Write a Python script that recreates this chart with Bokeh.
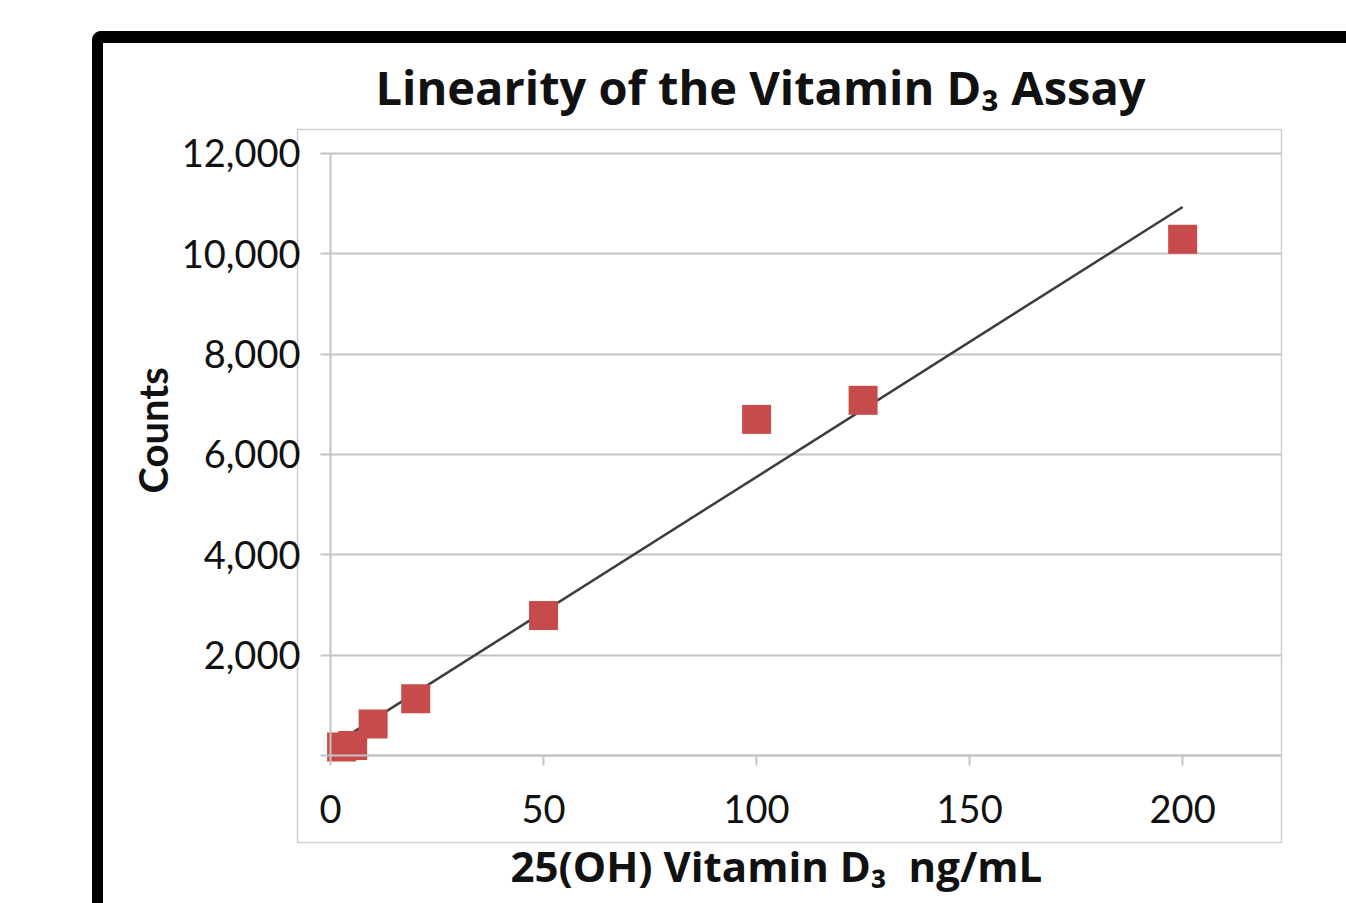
import numpy as np
from bokeh.plotting import figure
from bokeh.models import LinearAxis, Range1d, FixedTicker, Title
from bokeh.embed import file_html
from bokeh.resources import INLINE

# ---- data ----
concentration = [2.6, 5.2, 10, 20, 50, 100, 125, 200]        # ng/mL
counts = [170, 200, 630, 1130, 2790, 6700, 7080, 10290]
x_ticks = [0, 50, 100, 150, 200]
y_ticks = [0, 2000, 4000, 6000, 8000, 10000, 12000]
y_tick_labels = ["", "2,000", "4,000", "6,000", "8,000", "10,000", "12,000"]

title_text = "Linearity of the Vitamin D\u2083 Assay"
x_label = "25(OH) Vitamin D\u2083\u00a0\u00a0ng/mL"
y_label = "Counts"

# linear trend line (least squares fit of the series)
slope, intercept = np.polyfit(concentration, counts, 1)
trend_x = [min(concentration), max(concentration)]
trend_y = [slope * v + intercept for v in trend_x]

W, H = 1346, 903
X0, X1 = -7.75, 223.2
Y0, Y1 = -1734, 12478
GRID = "#c4c4c4"
INK = "#111111"

p = figure(width=W, height=H,
           x_range=Range1d(X0, X1), y_range=Range1d(Y0, Y1),
           output_backend="svg", toolbar_location=None,
           x_axis_location=None, y_axis_location=None,
           min_border_left=297, min_border_right=W - 1281,
           min_border_top=129, min_border_bottom=H - 842)
p.background_fill_color = "white"
p.border_fill_color = None
p.outline_line_color = "#cfcfcf"
p.outline_line_width = 1.5
# thick black frame of the picture (only its top and left sides are in view)
p.styles = {
    "background-color": "white",
    "background-image": ("radial-gradient(circle at 9px 9px, rgba(255,255,255,0) 8.5px, #fff 9.5px), "
                         "linear-gradient(#000,#000), linear-gradient(#000,#000)"),
    "background-size": "9px 9px, 1400px 12px, 11px 1000px",
    "background-position": "92px 31px, 92px 31px, 92px 31px",
    "background-repeat": "no-repeat",
}

# title
p.title.text = title_text
p.title.text_font = "Open Sans"
p.title.text_font_style = "bold"
p.title.text_font_size = "47px"
p.title.text_color = INK
p.title.align = "left"
p.title.offset = 78
p.title.standoff = 21

# grid
p.ygrid.grid_line_color = GRID
p.ygrid.grid_line_width = 2
p.ygrid.bounds = (0, 12000)
p.ygrid.cross_bounds = (0, X1)
p.xgrid.visible = False


def style_ticks(ax):
    ax.axis_line_color = GRID
    ax.axis_line_width = 2
    ax.major_tick_line_color = GRID
    ax.major_tick_line_width = 2
    ax.major_tick_out = 10
    ax.major_tick_in = 0
    ax.minor_tick_out = 0
    ax.minor_tick_in = 0
    ax.major_label_text_font = "Lato"
    ax.major_label_text_font_size = "38px"
    ax.major_label_text_color = INK


# x axis drawn at y = 0 inside the chart area
x_axis = LinearAxis(fixed_location=0, ticker=FixedTicker(ticks=x_ticks), bounds=(0, X1))
style_ticks(x_axis)
x_axis.major_label_standoff = 29
p.add_layout(x_axis, "below")

# y axis line and ticks at x = 0 inside the chart area
y_axis_line = LinearAxis(fixed_location=0, ticker=FixedTicker(ticks=y_ticks), bounds=(0, 12000))
style_ticks(y_axis_line)
y_axis_line.major_label_text_color = None
p.add_layout(y_axis_line, "left")

# y tick labels to the left of the chart area
y_axis = LinearAxis(ticker=FixedTicker(ticks=y_ticks),
                    major_label_overrides={t: s for t, s in zip(y_ticks, y_tick_labels)})
y_axis.axis_line_color = None
y_axis.major_tick_line_color = None
y_axis.minor_tick_line_color = None
y_axis.major_tick_out = 0
y_axis.major_tick_in = 0
y_axis.minor_tick_out = 0
y_axis.minor_tick_in = 0
y_axis.major_label_standoff = -3
y_axis.major_label_text_font = "Lato"
y_axis.major_label_text_font_size = "38px"
y_axis.major_label_text_color = INK
p.add_layout(y_axis, "left")

# axis titles
p.add_layout(Title(text=y_label, align="left", offset=349, standoff=4,
                   text_font="Lato", text_font_style="bold",
                   text_font_size="40px", text_color=INK), "left")
p.add_layout(Title(text=x_label, align="left", offset=213, standoff=-16,
                   text_font="Open Sans", text_font_style="bold",
                   text_font_size="42px", text_color=INK), "below")

# trend line and markers
p.line(trend_x, trend_y, line_color="#3d3d3d", line_width=2.5)
p.scatter(concentration, counts, marker="square", size=29,
          fill_color="#c84b4b", line_color="#c84b4b", line_width=0)

open("out.html", "w").write(file_html(p, INLINE))
